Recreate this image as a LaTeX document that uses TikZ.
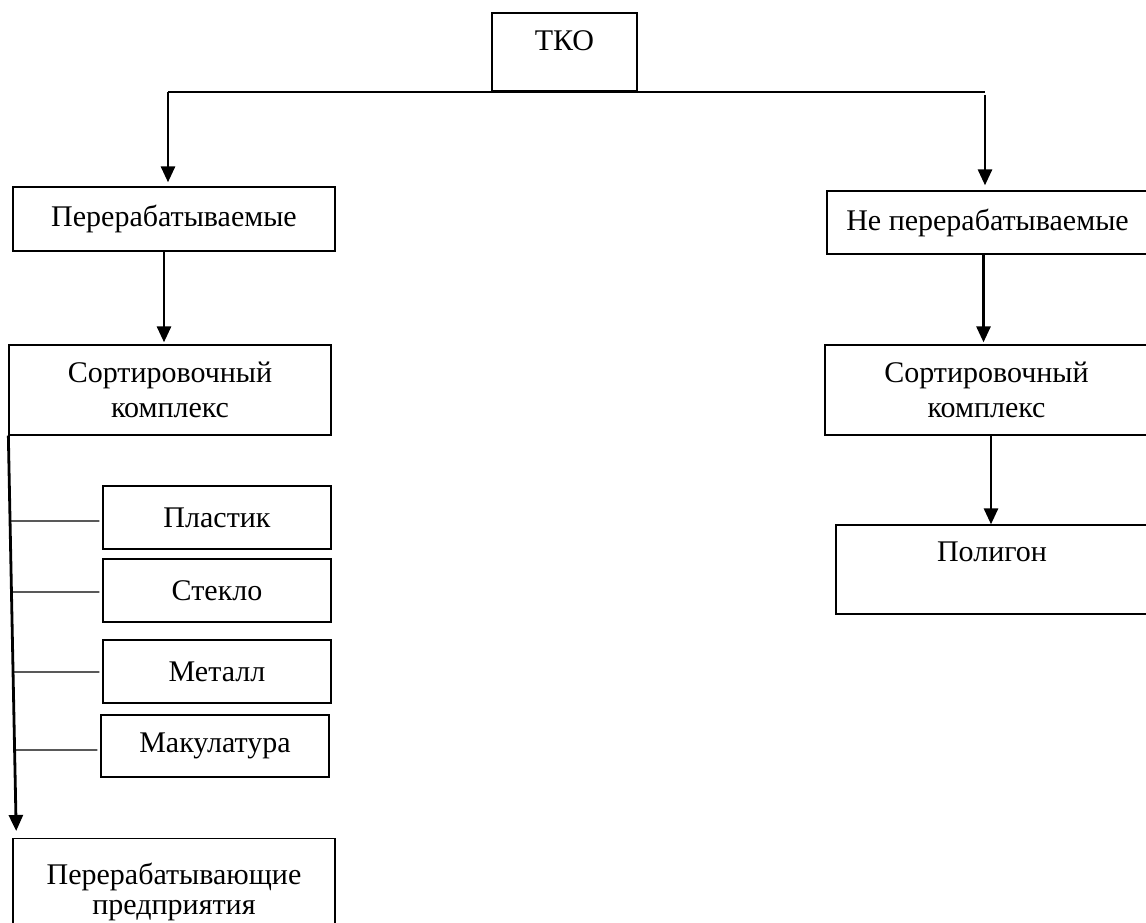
\documentclass[tikz,border=0pt]{standalone}
\usepackage{fontspec}
\setmainfont{Liberation Serif}
\usetikzlibrary{arrows.meta,calc}
\begin{document}
\begin{tikzpicture}[x=1pt,y=-1pt,
  box/.style={draw,line width=1.3pt,rectangle,inner sep=0pt,font=\fontsize{30}{35}\selectfont,align=center},
  thinline/.style={line width=1.3pt},
  arr/.style={line width=2.8pt,-{Triangle[width=14pt,length=16pt]}}]
\useasboundingbox (0,0) rectangle (1146,923);
% boxes
\node[box,minimum width=145pt,minimum height=78pt,text height=20pt,text depth=22pt] (tko) at (564.5,52) {ТКО};
\node[box,minimum width=322pt,minimum height=64pt] (per) at (174,219) {Перерабатываемые};
\node[box,minimum width=321pt,minimum height=63pt] (np) at (987.5,222.5) {Не перерабатываемые};
\node[box,minimum width=322pt,minimum height=90pt] (sortl) at (170,390) {Сортировочный\\комплекс};
\node[box,minimum width=323pt,minimum height=90pt] (sortr) at (986.5,390) {Сортировочный\\комплекс};
\node[box,minimum width=312pt,minimum height=89pt,text height=20pt,text depth=36pt] (pol) at (992,569.5) {Полигон};
\node[box,minimum width=228pt,minimum height=63pt] (pl) at (217,517.5) {Пластик};
\node[box,minimum width=228pt,minimum height=63pt] (st) at (217,590.5) {Стекло};
\node[box,minimum width=228pt,minimum height=63pt] (me) at (217,671.5) {Металл};
\node[box,minimum width=228pt,minimum height=62pt] (ma) at (215,746) {Макулатура};
\node[box,minimum width=322pt,minimum height=106pt,font=\fontsize{30}{30}\selectfont,anchor=north] (pp) at (174,838) {Перерабатывающие\\предприятия};
% connectors
\coordinate (jl) at (168,92);
\coordinate (jr) at (985,92);
\draw[thinline] (jl) -- (jr);
\draw[arr,shorten >=4pt] (jl) -- (jl |- per.north);
\draw[arr,shorten >=5pt,shorten <=3pt] (jr) -- (jr |- np.north);
\draw[arr,shorten >=2pt] ([xshift=-10pt]per.south) -- ([xshift=-10pt]per.south |- sortl.north);
\draw[arr,shorten >=2pt] ([xshift=-4pt]np.south) -- ([xshift=-4pt]np.south |- sortr.north);
\draw[arr] ([xshift=4.5pt]sortr.south) -- ([xshift=4.5pt]sortr.south |- pol.north);
\coordinate (vtop) at (sortl.south west);
\coordinate (vbot) at ([xshift=4pt]pp.north west);
\draw[arr,shorten >=7pt] (vtop) -- (vbot);
\foreach \b/\d in {pl/-3.5,st/-1.5,me/-0.5,ma/-4}{
  \coordinate (e\b) at ([xshift=-3pt,yshift=\d pt]\b.west);
  \coordinate (f\b) at ([xshift=-200pt,yshift=\d pt]\b.west);
  \draw[thinline] (intersection of vtop--vbot and e\b--f\b) -- (e\b);
}
\end{tikzpicture}
\end{document}
